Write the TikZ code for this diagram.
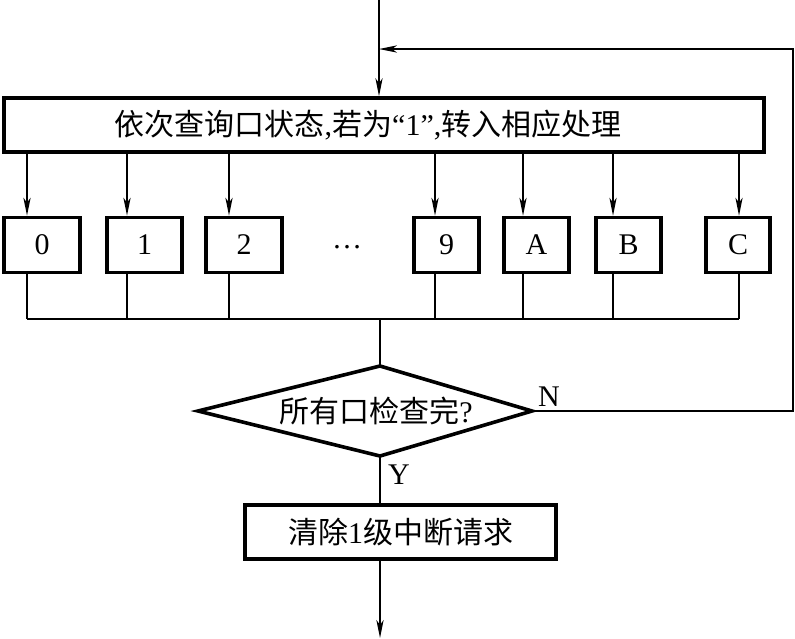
\documentclass[tikz,border=0pt]{standalone}
\usepackage{fontspec}
\setmainfont{Liberation Serif}
\newfontfamily\cjk{Noto Sans CJK SC}
\usetikzlibrary{arrows.meta}

\begin{document}
\begin{tikzpicture}[x=0.5pt, y=-0.5pt,
    every node/.style={font=\fontsize{15pt}{18pt}\selectfont},
    box/.style={draw, line width=1.8pt, inner sep=0pt},
    flow/.style={line width=0.7pt},
    arr/.style={flow, -{Stealth[length=9pt, width=3.6pt, inset=2.5pt]}}]
  \useasboundingbox (0,0) rectangle (795,638);

  \node[box, minimum width=380pt, minimum height=27pt] (scan) at (384,125)
    {{\cjk 依次查询口状态},{\cjk 若为}“1”,{\cjk 转入相应处理}\hspace*{16pt}};
  \coordinate (start) at (379,0);
  \draw[arr] (start) -- (start |- scan.north);

  \coordinate (bus) at (379,319);
  \foreach \n/\cx/\w/\tx in {0/42/38/27, 1/144.5/37.5/127, 2/244/38/229,
      9/446.5/32.5/435, A/536.5/32.5/523, B/628.5/32.5/613, C/738/32/739}{
    \node[box, minimum width=\w pt, minimum height=27.5pt] (p\n) at (\cx,245) {\n};
    \coordinate (t\n) at (\tx,0);
    \draw[arr] (scan.south -| t\n) -- (p\n.north -| t\n);
    \draw[flow] (p\n.south -| t\n) -- (t\n |- bus);
  }
  \node (dots) at (347,247) {…};
  \draw[flow] (t0 |- bus) -- (tC |- bus);

  \coordinate (dtop) at (380,366);
  \coordinate (dleft) at (198,411);
  \coordinate (dright) at (532,411);
  \coordinate (dbot) at (380,456);
  \draw[line width=1.8pt] (dleft) -- (dtop) -- (dright) -- (dbot) -- cycle;
  \node (chk) at (376,411) {{\cjk 所有口检查完}?};
  \draw[flow] (dtop |- bus) -- (dtop);
  \node (no) at (549,397) {N};
  \node (yes) at (399,475) {Y};

  \coordinate (back) at (793,49);
  \draw[arr] (dright) -| (back) -- (back -| start);

  \node[box, minimum width=155.5pt, minimum height=27pt] (clr) at (400.5,532)
    {{\cjk 清除}1{\cjk 级中断请求}};
  \draw[flow] (dbot) -- (clr.north -| dbot);
  \coordinate (stop) at (380,638);
  \draw[arr] (clr.south -| dbot) -- (stop);
\end{tikzpicture}
\end{document}
